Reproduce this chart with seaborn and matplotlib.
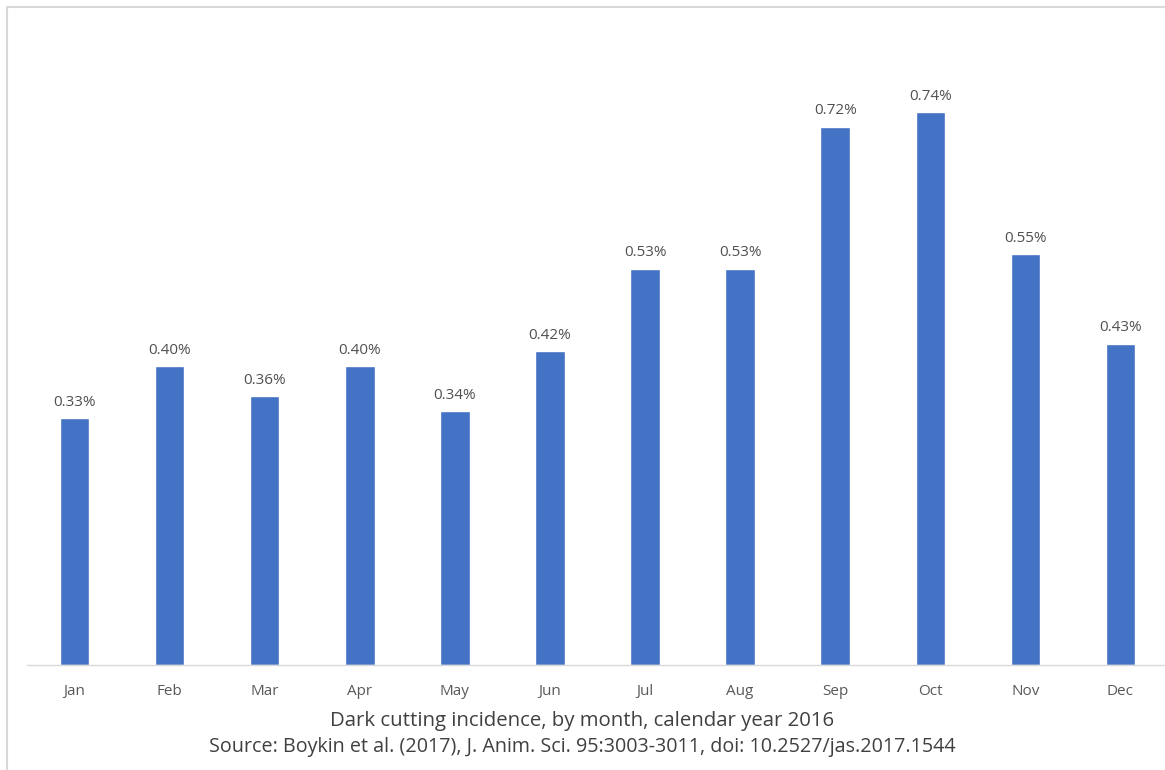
import matplotlib
matplotlib.use("Agg")
import matplotlib.pyplot as plt
import seaborn as sns
import pandas as pd
from matplotlib.lines import Line2D

months = ["Jan", "Feb", "Mar", "Apr", "May", "Jun", "Jul", "Aug", "Sep", "Oct", "Nov", "Dec"]
incidence = [0.33, 0.40, 0.36, 0.40, 0.34, 0.42, 0.53, 0.53, 0.72, 0.74, 0.55, 0.43]
value_labels = ["0.33%", "0.40%", "0.36%", "0.40%", "0.34%", "0.42%", "0.53%", "0.53%", "0.72%", "0.74%", "0.55%", "0.43%"]
title = "Dark cutting incidence, by month, calendar year 2016"
source = "Source: Boykin et al. (2017), J. Anim. Sci. 95:3003-3011, doi: 10.2527/jas.2017.1544"

sns.set_theme(style="white")
plt.rcParams['font.family'] = ['Open Sans', 'DejaVu Sans']

df = pd.DataFrame({"month": months, "value": incidence})

fig = plt.figure(figsize=(11.65, 7.7), dpi=100)
ax = fig.add_axes([27/1165, 1 - 665/770, (1168 - 27)/1165, (665 - 67)/770])

sns.barplot(data=df, x="month", y="value", color="#4472C4", saturation=1, width=0.31, ax=ax)

ax.set_ylim(0, 0.8)
ax.set_yticks([])
ax.set_xlabel("")
ax.set_ylabel("")
for s in ["top", "right", "left"]:
    ax.spines[s].set_visible(False)
ax.spines["bottom"].set_color("#d9d9d9")
ax.spines["bottom"].set_linewidth(1)
ax.tick_params(axis="x", length=0, pad=14, labelsize=11, labelcolor="#595959")

for i, (v, lab) in enumerate(zip(incidence, value_labels)):
    ax.annotate(lab, (i, v), xytext=(0, 6), textcoords="offset points",
                ha="center", va="bottom", fontsize=11, color="#505050")

fig.text(0.5, 1 - 721/770, title, ha="center", va="center", fontsize=14.7, color="#404040")
fig.text(0.5, 1 - 747/770, source, ha="center", va="center", fontsize=14.2, color="#404040")

# light frame around chart area (left and top edges)
fig.add_artist(Line2D([7/1165, 7/1165], [0, 1 - 7/770], transform=fig.transFigure, color="#d9d9d9", lw=1.5))
fig.add_artist(Line2D([7/1165, 1], [1 - 7/770, 1 - 7/770], transform=fig.transFigure, color="#d9d9d9", lw=1.5))

fig.savefig("out.png", dpi=100)
